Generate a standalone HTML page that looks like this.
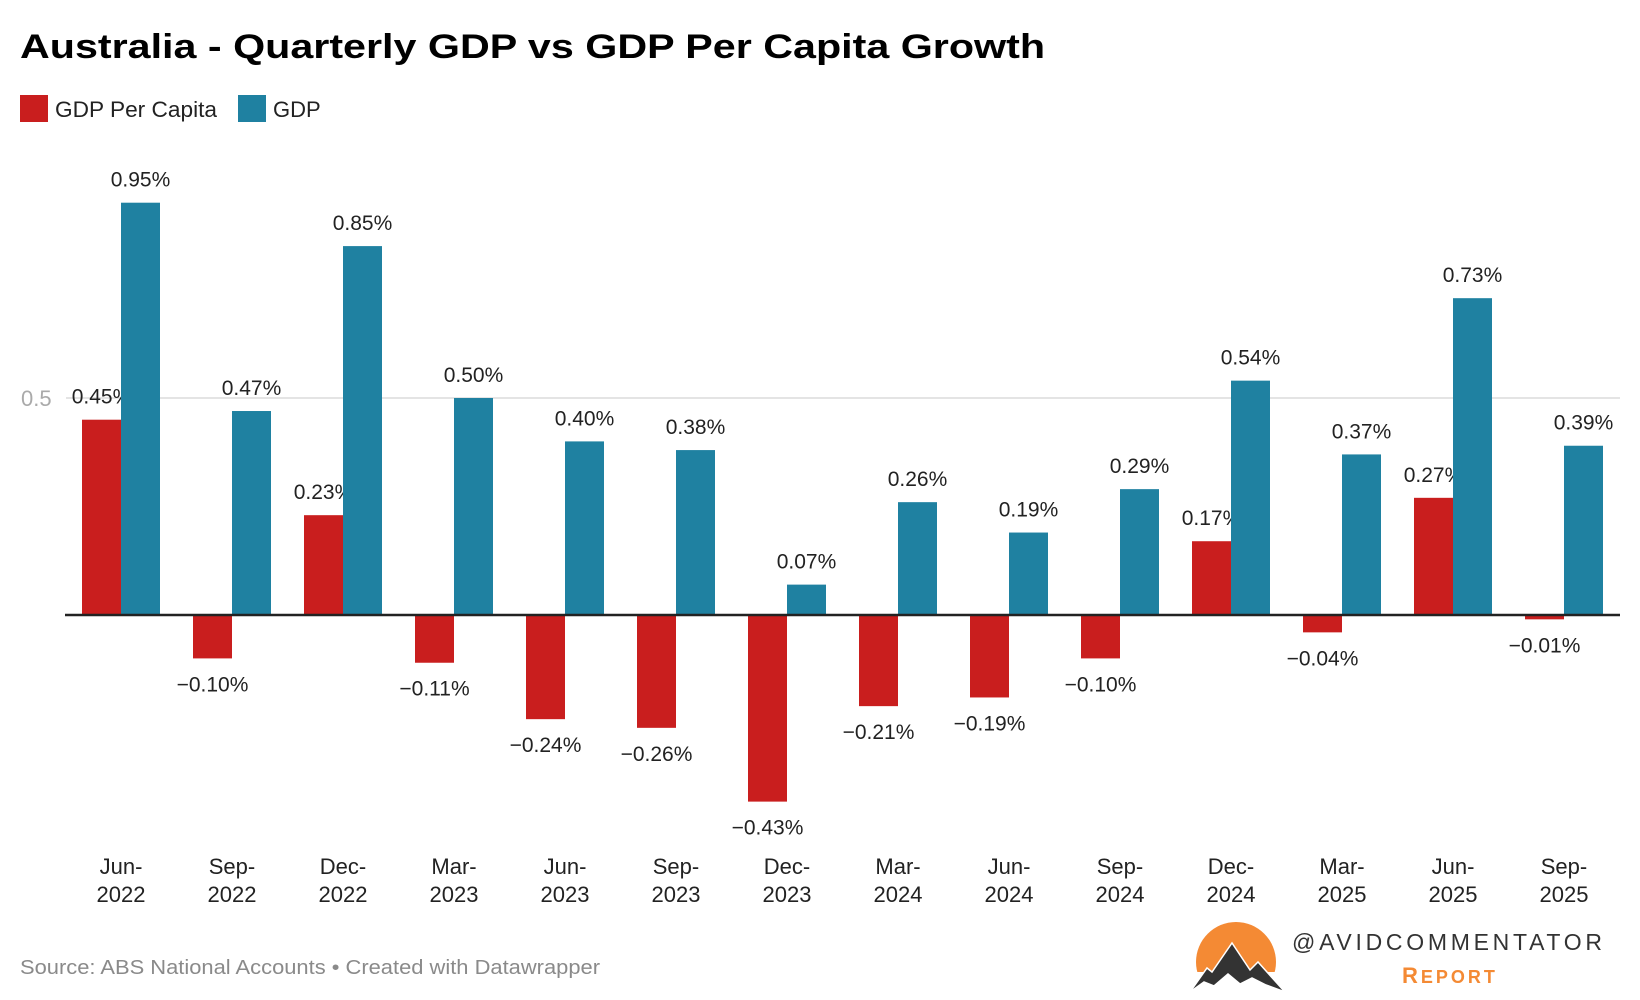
<!DOCTYPE html>
<html><head><meta charset="utf-8">
<style>
html,body{margin:0;padding:0;background:#fff;}
svg{display:block;font-family:"Liberation Sans",sans-serif;}
</style></head>
<body>
<svg id="chart" width="1640" height="1000" viewBox="0 0 1640 1000">
  <text x="20" y="58" font-size="34" font-weight="bold" fill="#000" textLength="1025" lengthAdjust="spacingAndGlyphs">Australia - Quarterly GDP vs GDP Per Capita Growth</text>
  <g>
    <rect x="20" y="95" width="28" height="27" fill="#c91e1e"/>
    <text x="55" y="117" font-size="22" fill="#222" textLength="162" lengthAdjust="spacingAndGlyphs">GDP Per Capita</text>
    <rect x="238" y="95" width="28" height="27" fill="#1f81a1"/>
    <text x="273" y="117" font-size="22" fill="#222">GDP</text>
  </g>
  <g id="plot"></g>
  <text x="20" y="974" font-size="20" fill="#8a8a8a" textLength="580" lengthAdjust="spacingAndGlyphs">Source: ABS National Accounts • Created with Datawrapper</text>
  <g>
    <circle cx="1236" cy="962" r="40" fill="#f48a34"/>
    <rect x="1190" y="972" width="95" height="30" fill="#fff"/>
    <polygon points="1190,992 1207,968 1212,972 1232,943 1250,970 1258,962 1285,992 1266,985 1252,978 1240,984 1228,974 1214,986 1204,982" fill="#333" stroke="#fff" stroke-width="1.5"/>
    <text x="1292" y="950" font-size="23" fill="#333" textLength="310" lengthAdjust="spacing">@AVIDCOMMENTATOR</text>
    <text x="1402" y="983" font-size="22" font-weight="bold" fill="#f48a34" letter-spacing="3">R<tspan font-size="18">EPORT</tspan></text>
  </g>
</svg>
<script>
const categories = ["Jun-2022","Sep-2022","Dec-2022","Mar-2023","Jun-2023","Sep-2023","Dec-2023","Mar-2024","Jun-2024","Sep-2024","Dec-2024","Mar-2025","Jun-2025","Sep-2025"];
const perCapita = [0.45,-0.10,0.23,-0.11,-0.24,-0.26,-0.43,-0.21,-0.19,-0.10,0.17,-0.04,0.27,-0.01];
const gdp = [0.95,0.47,0.85,0.50,0.40,0.38,0.07,0.26,0.19,0.29,0.54,0.37,0.73,0.39];
const yTicks = [0.5];

const NS = "http://www.w3.org/2000/svg";
const plot = document.getElementById("plot");
const zeroY = 615, pxPerUnit = 434;
const firstCenter = 121, step = 111, barW = 39;
function y(v){ return zeroY - v*pxPerUnit; }
function xc(i){ return firstCenter + i*step; }
function mk(tag, attrs){ const e = document.createElementNS(NS, tag); for (const k in attrs) e.setAttribute(k, attrs[k]); plot.appendChild(e); return e; }
function fmt(v){ return (v<0 ? "\u2212" : "") + Math.abs(v).toFixed(2) + "%"; }

yTicks.forEach(t => {
  const g = mk("line", {x1:66, x2:1620, y1:y(t), y2:y(t), stroke:"#e4e4e4", "stroke-width":2});
  
  
  const l = mk("text", {x:21, y:y(t)+8, "font-size":22, fill:"#aaa"});
  l.textContent = String(t);
  
  
});

function drawBar(i, v, offset, color, series){
  const x0 = xc(i) + offset;
  const top = Math.min(y(v), zeroY), h = Math.abs(y(v) - zeroY);
  const r = mk("rect", {x:x0, y:top, width:barW, height:h, fill:color});
  
  
  const ly = v >= 0 ? y(v) - 16 : y(v) + 33;
  const t = mk("text", {x:x0 + barW/2, y:ly, "font-size":21, fill:"#222", "text-anchor":"middle"});
  t.textContent = fmt(v);
  
  
}

categories.forEach((c, i) => {
  drawBar(i, perCapita[i], -barW, "#c91e1e", "per-capita");
  drawBar(i, gdp[i], 0, "#1f81a1", "gdp");
  const parts = c.split("-");
  const t1 = mk("text", {x:xc(i), y:874, "font-size":22, fill:"#222", "text-anchor":"middle"});
  t1.textContent = parts[0] + "-";
  
  
  const t2 = mk("text", {x:xc(i), y:902, "font-size":22, fill:"#222", "text-anchor":"middle"});
  t2.textContent = parts[1];
  
  
});

const axis = mk("line", {x1:65, x2:1620, y1:zeroY, y2:zeroY, stroke:"#222", "stroke-width":2.5});


</script>
</body></html>
